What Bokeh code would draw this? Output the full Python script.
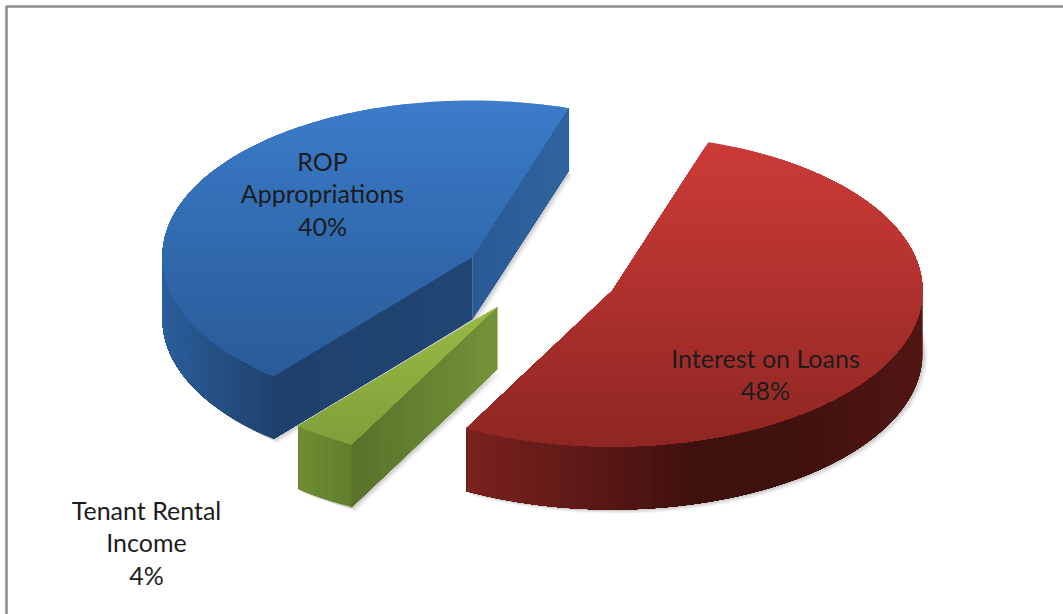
import numpy as np
from bokeh.plotting import figure
from bokeh.models import Range1d
from bokeh.core.properties import value
from bokeh.embed import file_html
from bokeh.resources import INLINE

# ---- chart data (top level) ----
categories = ["Interest on Loans", "Tenant Rental Income", "ROP Appropriations"]
percent_labels = [48, 4, 40]
# share of the full circle each slice occupies in the picture (percent)
arc_shares = [52.8, 3.3, 43.9]
first_slice_start_deg = 18.0

# ---- geometry and style ----
RX, RY, DEPTH = 310.0, 156.0, 63.0
centers = [(612.0, 290.0), (497.0, 306.0), (472.0, 256.0)]
top_stops = [
    [(142, "#cb3b37"), (250, "#b83431"), (445, "#8f2623")],
    [(306, "#98bb45"), (444, "#7f9f3a")],
    [(100, "#3c7cca"), (250, "#3069ad"), (375, "#2b5b98")],
]
rim_stops = [
    [(466, "#7a211e"), (560, "#651b18"), (700, "#3e100e"), (800, "#3f110f"), (923, "#521614")],
    [(297, "#708f33"), (350, "#627f2c")],
    [(162, "#2b5e9b"), (272, "#1f4470")],
]
face_stops = [
    None,
    [(350, "#59712a"), (497, "#739338")],
    [(272, "#1e406d"), (472, "#214673")],
]
face2_stops = [None, None, [(472, "#2a5a96"), (570, "#2f659f")]]
label_rows = [
    (["Interest on Loans", "48%"], 765.0, 357.0),
    (["Tenant Rental", "Income", "4%"], 146.0, 509.0),
    (["ROP", "Appropriations", "40%"], 322.0, 160.0),
]


def rgb(h):
    return np.array([int(h[i:i + 2], 16) for i in (1, 3, 5)], float)


def ramp(stops, v):
    xs = [s[0] for s in stops]
    cs = np.array([rgb(s[1]) for s in stops])
    c = [np.interp(v, xs, cs[:, k]) for k in range(3)]
    return "#%02x%02x%02x" % tuple(int(round(a)) for a in c)


def ell(c, t):
    t = np.radians(t)
    return c[0] + RX * np.sin(t), c[1] - RY * np.cos(t)


def clip_below(pts, y0):
    """Part of a polygon at or below screen row y0."""
    out = []
    for i in range(len(pts)):
        a, b = pts[i], pts[(i + 1) % len(pts)]
        ia, ib = a[1] >= y0, b[1] >= y0
        if ia:
            out.append(a)
        if ia != ib:
            out.append((a[0] + (b[0] - a[0]) * (y0 - a[1]) / (b[1] - a[1]), y0))
    return out


p = figure(width=1063, height=614, output_backend="svg", toolbar_location=None,
           x_range=Range1d(0, 1063), y_range=Range1d(614, 0),
           x_axis_location=None, y_axis_location=None, min_border=0)
p.grid.visible = False
p.outline_line_color = None
p.background_fill_color = "white"
p.border_fill_color = "white"

# chart frame
p.line([6, 6, 1063], [614, 6, 6], line_color="#8c8c8c", line_width=2.5)

# slice angles from the data
total = sum(arc_shares)
starts, ends = [], []
a = first_slice_start_deg
for s in arc_shares:
    starts.append(a)
    a += s / total * 360.0
    ends.append(a)

# soft shadows first
for c, s, e in zip(centers, starts, ends):
    ts = np.linspace(s, e, 120)
    ex, ey = ell(c, ts)
    sx = np.r_[c[0], ex]
    sy = np.r_[c[1], ey] + DEPTH
    for off, alpha in ((7, 0.05), (5, 0.08), (3, 0.12)):
        p.patch(sx + off * 0.7, sy + off * 0.6, fill_color="#404040", fill_alpha=alpha, line_color=None)

for idx in (2, 1, 0):
    c, s, e = centers[idx], starts[idx], ends[idx]

    # cut faces that look toward the viewer: each strip is painted over the rest of the face
    for stops, t in ((face2_stops[idx], e), (face_stops[idx], s)):
        if stops is None:
            continue
        ox, oy = ell(c, t)
        for f in np.linspace(0, 1, 21)[:-1]:
            x0, y0 = c[0] + (ox - c[0]) * f, c[1] + (oy - c[1]) * f
            col = ramp(stops, x0 + (ox - c[0]) * 0.025)
            p.patch([x0, ox, ox, x0], [y0, oy, oy + DEPTH, y0 + DEPTH], fill_color=col, line_color=None)

    # outer rim, only its front half shows
    v0, v1 = max(s, 90.0), min(e, 270.0)
    if v1 > v0:
        tt = np.linspace(v0, v1, max(int((v1 - v0) / 1.5), 5))
        for t0 in tt[:-1]:
            ang = np.linspace(t0, v1, 60)
            x, y = ell(c, ang)
            col = ramp(rim_stops[idx], float(x[0]))
            p.patch(np.r_[x, x[::-1]], np.r_[y, y[::-1] + DEPTH], fill_color=col, line_color=None)

    # top surface: each band is painted over everything below it
    ts = np.linspace(s, e, 200)
    ex, ey = ell(c, ts)
    poly = [(c[0], c[1])] + list(zip(ex, ey))
    ymin, ymax = float(min(np.min(ey), c[1])), float(max(np.max(ey), c[1]))
    for yb in np.arange(ymin, ymax, 4.0):
        part = clip_below(poly, yb)
        if len(part) >= 3:
            col = ramp(top_stops[idx], yb + 2)
            p.patch([q[0] for q in part], [q[1] for q in part], fill_color=col, line_color=None)

# data labels
for (lines, x, y), pct, name in zip(label_rows, percent_labels, categories):
    for i, line in enumerate(lines):
        p.text([x], [y + i * 32.5], text=[line], text_font=value("Lato"), text_font_size="25px",
               text_color="#1c1c1c", text_align="center", text_baseline="middle")

open("out.html", "w").write(file_html(p, INLINE))
